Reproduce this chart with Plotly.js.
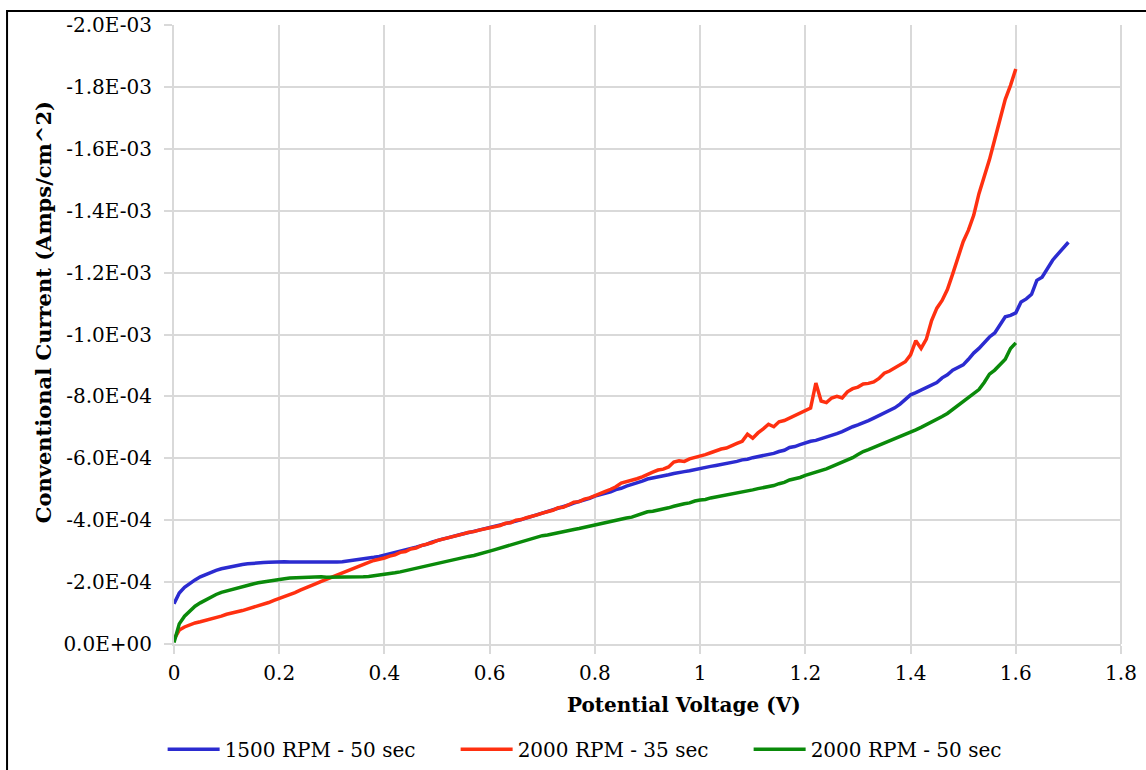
<!DOCTYPE html>
<html>
<head>
<meta charset="utf-8">
<script src="https://cdn.plot.ly/plotly-3.0.1.min.js"></script>
<style>
html,body{margin:0;padding:0;background:#fff;}
#chart{width:1146px;height:770px;}
</style>
</head>
<body>
<div id="chart"></div>
<script>
// Potential voltage (V), 0.00 .. 1.70 in 0.01 V steps
const voltage = [
0.00,0.01,0.02,0.03,0.04,0.05,0.06,0.07,0.08,0.09,
0.10,0.11,0.12,0.13,0.14,0.15,0.16,0.17,0.18,0.19,
0.20,0.21,0.22,0.23,0.24,0.25,0.26,0.27,0.28,0.29,
0.30,0.31,0.32,0.33,0.34,0.35,0.36,0.37,0.38,0.39,
0.40,0.41,0.42,0.43,0.44,0.45,0.46,0.47,0.48,0.49,
0.50,0.51,0.52,0.53,0.54,0.55,0.56,0.57,0.58,0.59,
0.60,0.61,0.62,0.63,0.64,0.65,0.66,0.67,0.68,0.69,
0.70,0.71,0.72,0.73,0.74,0.75,0.76,0.77,0.78,0.79,
0.80,0.81,0.82,0.83,0.84,0.85,0.86,0.87,0.88,0.89,
0.90,0.91,0.92,0.93,0.94,0.95,0.96,0.97,0.98,0.99,
1.00,1.01,1.02,1.03,1.04,1.05,1.06,1.07,1.08,1.09,
1.10,1.11,1.12,1.13,1.14,1.15,1.16,1.17,1.18,1.19,
1.20,1.21,1.22,1.23,1.24,1.25,1.26,1.27,1.28,1.29,
1.30,1.31,1.32,1.33,1.34,1.35,1.36,1.37,1.38,1.39,
1.40,1.41,1.42,1.43,1.44,1.45,1.46,1.47,1.48,1.49,
1.50,1.51,1.52,1.53,1.54,1.55,1.56,1.57,1.58,1.59,
1.60,1.61,1.62,1.63,1.64,1.65,1.66,1.67,1.68,1.69,
1.70
];

// Conventional current, in units of 1E-04 A/cm^2 (sign applied below: the values are negative)
const UNIT = -1e-4;

const rpm1500_50s = [
1.30,1.65,1.83,1.96,2.07,2.17,2.25,2.32,2.38,2.43,
2.47,2.51,2.54,2.57,2.59,2.61,2.62,2.63,2.64,2.65,
2.65,2.66,2.65,2.65,2.64,2.64,2.63,2.64,2.63,2.63,
2.64,2.65,2.66,2.68,2.70,2.72,2.75,2.77,2.80,2.83,
2.87,2.91,2.95,2.99,3.04,3.08,3.13,3.18,3.22,3.29,
3.35,3.39,3.43,3.48,3.52,3.56,3.60,3.64,3.67,3.72,
3.76,3.80,3.85,3.88,3.93,3.97,4.02,4.07,4.12,4.17,
4.24,4.28,4.33,4.37,4.44,4.49,4.55,4.60,4.66,4.71,
4.78,4.82,4.88,4.92,4.99,5.03,5.10,5.15,5.20,5.26,
5.33,5.36,5.40,5.44,5.47,5.51,5.53,5.57,5.60,5.64,
5.66,5.70,5.74,5.77,5.80,5.84,5.87,5.90,5.95,5.97,
6.02,6.05,6.09,6.12,6.16,6.22,6.26,6.35,6.38,6.44,
6.50,6.55,6.58,6.63,6.68,6.74,6.80,6.86,6.95,7.02,
7.08,7.14,7.22,7.30,7.38,7.45,7.55,7.63,7.75,7.90,
8.05,8.12,8.20,8.28,8.38,8.45,8.60,8.70,8.85,8.95,
9.02,9.20,9.40,9.55,9.75,9.92,10.05,10.30,10.57,10.62,
10.70,11.05,11.15,11.30,11.75,11.85,12.15,12.40,12.60,12.80,
12.98
];

const rpm2000_35s = [
0.15,0.45,0.55,0.62,0.68,0.72,0.76,0.82,0.86,0.90,
0.96,0.99,1.04,1.08,1.13,1.17,1.24,1.28,1.34,1.41,
1.47,1.52,1.59,1.66,1.74,1.82,1.88,1.95,2.02,2.09,
2.15,2.23,2.30,2.39,2.46,2.53,2.58,2.64,2.70,2.73,
2.78,2.84,2.88,2.96,2.99,3.07,3.10,3.18,3.22,3.27,
3.34,3.38,3.42,3.48,3.52,3.56,3.61,3.63,3.68,3.72,
3.75,3.80,3.83,3.90,3.92,4.00,4.02,4.08,4.12,4.17,
4.23,4.28,4.32,4.40,4.42,4.50,4.58,4.60,4.68,4.72,
4.80,4.88,4.93,5.00,5.08,5.20,5.24,5.28,5.34,5.40,
5.46,5.55,5.62,5.65,5.72,5.88,5.92,5.90,5.98,6.02,
6.07,6.12,6.18,6.25,6.30,6.33,6.42,6.48,6.55,6.78,
6.65,6.82,6.95,7.10,7.02,7.18,7.22,7.30,7.38,7.45,
7.56,7.62,8.43,7.85,7.80,7.95,8.00,7.95,8.15,8.25,
8.30,8.40,8.42,8.47,8.58,8.75,8.82,8.92,9.00,9.12,
9.34,9.80,9.55,9.85,10.45,10.85,11.10,11.45,11.95,12.45,
13.00,13.37,13.85,14.55,15.10,15.65,16.30,16.90,17.60,18.05,
18.58
];

const rpm2000_50s = [
0.05,0.65,0.90,1.08,1.22,1.33,1.43,1.52,1.60,1.67,
1.72,1.77,1.81,1.86,1.90,1.94,1.98,2.01,2.04,2.07,
2.09,2.11,2.13,2.14,2.15,2.16,2.16,2.16,2.17,2.16,
2.16,2.16,2.15,2.15,2.15,2.16,2.17,2.18,2.20,2.22,
2.24,2.27,2.30,2.33,2.37,2.41,2.45,2.48,2.52,2.56,
2.60,2.63,2.67,2.71,2.75,2.79,2.83,2.86,2.90,2.94,
3.00,3.05,3.10,3.14,3.19,3.24,3.29,3.33,3.38,3.44,
3.50,3.52,3.56,3.60,3.62,3.66,3.70,3.73,3.77,3.81,
3.85,3.88,3.92,3.95,3.99,4.03,4.07,4.10,4.15,4.20,
4.27,4.29,4.32,4.37,4.40,4.45,4.50,4.53,4.56,4.62,
4.65,4.67,4.72,4.75,4.78,4.83,4.86,4.88,4.92,4.94,
4.98,5.02,5.05,5.10,5.12,5.18,5.22,5.30,5.34,5.38,
5.45,5.50,5.56,5.60,5.66,5.73,5.80,5.88,5.96,6.02,
6.12,6.22,6.28,6.35,6.42,6.50,6.55,6.65,6.70,6.78,
6.85,6.92,7.00,7.08,7.18,7.25,7.35,7.45,7.58,7.72,
7.85,7.98,8.10,8.22,8.45,8.72,8.85,9.02,9.20,9.55,
9.73
];

const seriesNames = ['1500 RPM - 50 sec', '2000 RPM - 35 sec', '2000 RPM - 50 sec'];
const seriesData = [rpm1500_50s, rpm2000_35s, rpm2000_50s];
const seriesColors = ['#2B2BD0', '#FF3010', '#0A8A0A'];

const xTitle = 'Potential Voltage (V)';
const yTitle = 'Conventional Current (Amps/cm^2)';

const yTickVals = [0, -2e-4, -4e-4, -6e-4, -8e-4, -1.0e-3, -1.2e-3, -1.4e-3, -1.6e-3, -1.8e-3, -2.0e-3];
const yTickText = ['0.0E+00','-2.0E-04','-4.0E-04','-6.0E-04','-8.0E-04','-1.0E-03','-1.2E-03','-1.4E-03','-1.6E-03','-1.8E-03','-2.0E-03'];

const traces = seriesData.map((vals, i) => ({
  type: 'scatter',
  mode: 'lines',
  name: seriesNames[i],
  x: voltage.slice(0, vals.length),
  y: vals.map(v => v * UNIT),
  line: {color: seriesColors[i], width: 3.5}
}));

const FONT = 'DejaVu Serif, serif';
const GRID = '#d9d9d9';

const layout = {
  width: 1146,
  height: 770,
  autosize: false,
  paper_bgcolor: '#ffffff',
  plot_bgcolor: '#ffffff',
  margin: {l: 174, r: 25, t: 25, b: 126, autoexpand: false},
  font: {family: FONT, size: 20, color: '#000'},
  showlegend: true,
  legend: {
    orientation: 'h',
    x: -0.012,
    xanchor: 'left',
    y: -0.17,
    yanchor: 'middle',
    entrywidth: 226,
    itemwidth: 52,
    font: {family: FONT, size: 20, color: '#000'},
    bgcolor: 'rgba(0,0,0,0)'
  },
  xaxis: {
    range: [0, 1.8],
    dtick: 0.2,
    tick0: 0,
    tickangle: 0,
    showgrid: true,
    gridcolor: GRID,
    gridwidth: 2,
    zeroline: false,
    showline: true,
    linecolor: GRID,
    linewidth: 2,
    ticks: 'outside',
    ticklen: 8,
    tickwidth: 2,
    tickcolor: GRID,
    ticklabelstandoff: 2,
    tickfont: {family: FONT, size: 20, color: '#000'}
  },
  yaxis: {
    range: [0, -2.0e-3],
    tickvals: yTickVals,
    ticktext: yTickText,
    showgrid: true,
    gridcolor: GRID,
    gridwidth: 2,
    zeroline: false,
    showline: true,
    linecolor: GRID,
    linewidth: 2,
    ticks: 'outside',
    ticklen: 8,
    tickwidth: 2,
    tickcolor: GRID,
    ticklabelstandoff: 8,
    tickfont: {family: FONT, size: 20, color: '#000'}
  },
  annotations: [
    {text: '<b>' + xTitle + '</b>', xref: 'paper', yref: 'paper', x: 0.5385, y: -0.0985,
     xanchor: 'center', yanchor: 'middle', showarrow: false, font: {family: FONT, size: 20, color: '#000'}},
    {text: '<b>' + yTitle + '</b>', xref: 'paper', yref: 'paper', x: -0.1383, y: 0.536, textangle: -90,
     xanchor: 'center', yanchor: 'middle', showarrow: false, font: {family: FONT, size: 21, color: '#000'}}
  ],
  shapes: [
    {type: 'line', xref: 'paper', yref: 'paper', x0: 1, x1: 1, y0: 0, y1: 1, line: {color: GRID, width: 2}},
    {type: 'rect', xref: 'paper', yref: 'paper', x0: -0.1763, x1: 1.06, y0: -0.26, y1: 1.0226, line: {color: '#000', width: 2}, fillcolor: 'rgba(0,0,0,0)'}
  ]
};

Plotly.newPlot('chart', traces, layout, {displayModeBar: false, staticPlot: true});
</script>
</body>
</html>
